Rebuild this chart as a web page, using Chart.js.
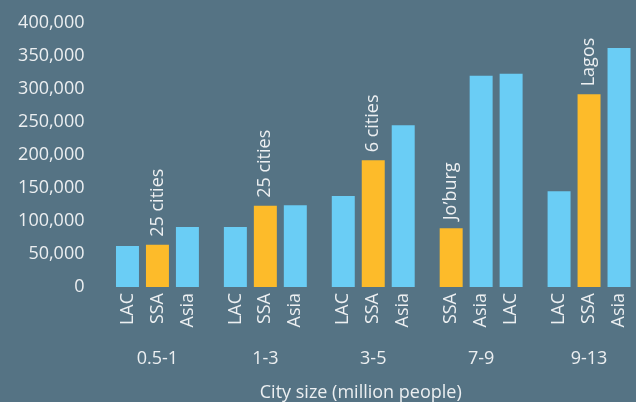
<!DOCTYPE html>
<html>
<head>
<meta charset="utf-8">
<script src="https://cdn.jsdelivr.net/npm/chart.js@4"></script>
<style>
  html, body { margin: 0; padding: 0; background: #557384; overflow: hidden; }
  #myChart { position: absolute; left: 0; top: 0; }
</style>
</head>
<body>
<canvas id="myChart" width="648" height="402"></canvas>
<script>
// city size groups and the order of the bars inside each one
const groups = ['0.5-1', '1-3', '3-5', '7-9', '9-13'];
const barOrder = [
    ['LAC', 'SSA', 'Asia'],
    ['LAC', 'SSA', 'Asia'],
    ['LAC', 'SSA', 'Asia'],
    ['SSA', 'Asia', 'LAC'],
    ['LAC', 'SSA', 'Asia']
];
const lacValues = [62000, 91000, 138000, 323000, 145000];
const ssaValues = [64000, 123000, 192000, 89000, 292000];
const asiaValues = [91000, 124000, 245000, 320000, 362000];
const ssaNotes = ['25 cities', '25 cities', '6 cities', 'Jo\u2019burg', 'Lagos'];
const yTicks = [0, 50000, 100000, 150000, 200000, 250000, 300000, 350000, 400000];

const textColor = '#eceff1';
const blue = '#6acdf5';
const orange = '#fdbb2a';
const font = 'Open Sans';

function valueFor(region, i) {
    if (region == 'LAC') return lacValues[i];
    if (region == 'SSA') return ssaValues[i];
    return asiaValues[i];
}

const datasets = [0, 1, 2].map(slot => ({
    label: 'slot ' + slot,
    data: groups.map((g, i) => valueFor(barOrder[i][slot], i)),
    backgroundColor: groups.map((g, i) => barOrder[i][slot] == 'SSA' ? orange : blue),
    regions: groups.map((g, i) => barOrder[i][slot]),
    categoryPercentage: 0.8333,
    barPercentage: 0.7667
}));

// region names under each bar, notes above SSA bars, axis title
const labelPlugin = {
    id: 'barLabels',
    afterDatasetsDraw(chart) {
        const ctx = chart.ctx;
        const xScale = chart.scales.x;
        ctx.save();
        ctx.fillStyle = textColor;
        ctx.font = '18px "' + font + '"';
        ctx.textBaseline = 'middle';
        chart.data.datasets.forEach((ds, d) => {
            chart.getDatasetMeta(d).data.forEach((bar, i) => {
                const region = ds.regions[i];
                ctx.save();
                ctx.translate(bar.x, xScale.top + 6);
                ctx.rotate(-Math.PI / 2);
                ctx.textAlign = 'right';
                ctx.fillText(region, 0, 0);
                ctx.restore();
                if (region == 'SSA') {
                    ctx.save();
                    ctx.translate(bar.x, bar.y - 8);
                    ctx.rotate(-Math.PI / 2);
                    ctx.textAlign = 'left';
                    ctx.fillText(ssaNotes[i], 0, 0);
                    ctx.restore();
                }
            });
        });
        ctx.textAlign = 'center';
        const titleX = (chart.scales.y.right - 18 + window.innerWidth) / 2;
        ctx.fillText('City size (million people)', titleX, 393);
        ctx.restore();
    }
};

new Chart(document.getElementById('myChart').getContext('2d'), {
    type: 'bar',
    data: { labels: groups, datasets: datasets },
    plugins: [labelPlugin],
    options: {
        responsive: false,
        animation: false,
        layout: { padding: { left: 0, right: 5, top: 23, bottom: 0 } },
        plugins: {
            legend: { display: false },
            tooltip: { enabled: false }
        },
        scales: {
            x: {
                grid: { display: false },
                border: { display: false },
                afterFit: axis => {
                    axis.height = 115;
                    axis.paddingLeft = 0;
                    axis.paddingRight = 0;
                },
                ticks: {
                    color: textColor,
                    font: { family: font, size: 18 },
                    padding: 53,
                    maxRotation: 0
                }
            },
            y: {
                min: 0,
                max: 400000,
                afterBuildTicks: axis => { axis.ticks = yTicks.map(v => ({ value: v })); },
                afterFit: axis => { axis.width = 103.5; },
                grid: { display: false },
                border: { display: false },
                ticks: {
                    color: textColor,
                    font: { family: font, size: 18 },
                    padding: 11,
                    autoSkip: false,
                    callback: v => v.toLocaleString('en-US')
                }
            }
        }
    }
});
</script>
</body>
</html>
